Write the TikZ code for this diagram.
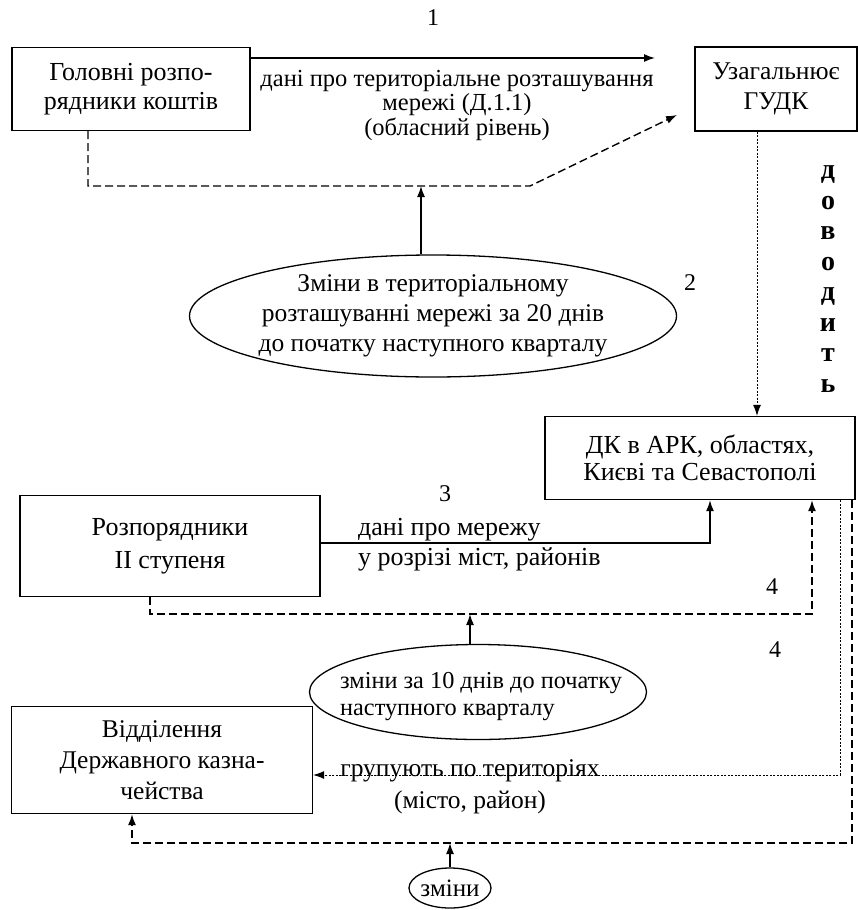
\documentclass[tikz,border=0pt]{standalone}
\usepackage{fontspec}
\setmainfont{Liberation Serif}
\usetikzlibrary{shapes.geometric,arrows.meta,calc}
\begin{document}
\begin{tikzpicture}[x=1pt,y=-1pt,
  box/.style={draw, line width=1.4pt, rectangle, align=center, inner sep=0pt},
  ell/.style={draw, ellipse, line width=1.3pt, inner sep=0pt},
  tip/.style={-{Latex[length=11pt,width=8pt]}},
  arr/.style={line width=1.4pt, tip},
  dsh/.style={line width=1.4pt, dash pattern=on 8pt off 4pt, tip},
  dot/.style={line width=0.8pt, dash pattern=on 2pt off 1.5pt, tip},
  txt/.style={align=center, inner sep=0pt},
  num/.style={font=\fontsize{24}{26}\selectfont, inner sep=0pt}]
\useasboundingbox (0,0) rectangle (858,910);

% boxes
\node[box, minimum width=238pt, minimum height=83pt, font=\fontsize{26}{29}\selectfont] (box1) at (131,89) {Головні розпо-\\рядники коштів};
\node[box, minimum width=162pt, minimum height=84pt, font=\fontsize{25.5}{30}\selectfont] (box2) at (776,89) {Узагальнює\\ГУДК};
\node[box, minimum width=310pt, minimum height=83pt, font=\fontsize{26}{27}\selectfont] (box3) at (700,458) {ДК в АРК, областях,\\Києві та Севастополі};
\node[box, minimum width=300pt, minimum height=101pt, font=\fontsize{26}{33}\selectfont] (box4) at (170,546) {Розпорядники\\II ступеня};
\node[box, minimum width=301pt, minimum height=107pt, font=\fontsize{25.5}{31}\selectfont] (box5) at (162,760) {Відділення\\Державного казна-\\чейства};

% ellipses
\node[ell, minimum width=487pt, minimum height=122pt] (ell1) at (433,316) {};
\node[txt, font=\fontsize{25.5}{30}\selectfont] (ell1t) at (ell1) {Зміни в територіальному\\розташуванні мережі за 20 днів\\до початку наступного кварталу};
\node[ell, minimum width=337pt, minimum height=95pt] (ell2) at (478,692) {};
\node[txt, font=\fontsize{24.3}{27}\selectfont, align=left, anchor=west] (ell2t) at (340,697) {зміни за 10 днів до початку\\наступного кварталу};
\node[ell, minimum width=82pt, minimum height=40pt] (ell3) at (450,888) {};
\node[txt, font=\fontsize{25}{26}\selectfont] (ell3t) at (ell3) {зміни};

% labels
\node[num] (n1) at (433,18) {1};
\node[num] (n2) at (690,283) {2};
\node[num] (n3) at (445,494) {3};
\node[num] (n4a) at (772,587) {4};
\node[num] (n4b) at (775,650) {4};
\node[txt, font=\fontsize{24.5}{24.5}\selectfont] (t1) at (457,105) {дані про територіальне розташування\\мережі (Д.1.1)\\(обласний рівень)};
\node[txt, align=left, anchor=west, font=\fontsize{26}{30}\selectfont] (t3) at (358,545) {дані про мережу\\у розрізі міст, районів};
\node[txt, font=\fontsize{25.5}{32}\selectfont] (t5) at (470,787) {групують по територіях\\(місто, район)};
\node[txt, font=\fontsize{28}{30.5}\selectfont\bfseries] (tv) at (828,279) {д\\о\\в\\о\\д\\и\\т\\ь};

% connectors
\coordinate (c1) at (655,58);
\draw[arr] (box1.east |- c1) -- (c1);

\coordinate (d1a) at (88,186);
\coordinate (d1b) at (530,186);
\coordinate (d1e) at (677,115);
\draw[dsh] (box1.south -| d1a) -- (d1a) -- (d1b) -- (d1e);
\coordinate (e1t) at (421,186);
\draw[arr] (ell1.north -| e1t) -- (e1t);

\coordinate (v1) at (757,0);
\draw[dot] (box2.south -| v1) -- (box3.north -| v1);

\coordinate (a3) at (710,543);
\draw[arr] (box4.east |- a3) -- (a3) -- (box3.south -| a3);

\coordinate (d4a) at (150,614);
\coordinate (d4b) at (812,614);
\draw[dsh] (box4.south -| d4a) -- (d4a) -- (d4b) -- (box3.south -| d4b);
\coordinate (e2t) at (470,614);
\draw[arr] (ell2.north -| e2t) -- (e2t);

\coordinate (g1) at (840,775);
\draw[dot] (box3.south -| g1) -- (g1) -- (box5.east |- g1);

\coordinate (b1) at (852,843);
\coordinate (b2) at (132,843);
\draw[dsh] (box3.south -| b1) -- (b1) -- (b2) -- (box5.south -| b2);
\draw[arr] (ell3.north) -- (ell3.north |- b1);
\end{tikzpicture}
\end{document}
